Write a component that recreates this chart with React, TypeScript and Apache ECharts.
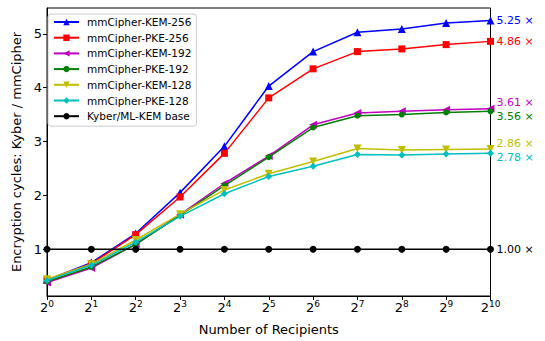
import React, { useEffect, useRef } from "react";
import * as echarts from "echarts";

const exponents = [0, 1, 2, 3, 4, 5, 6, 7, 8, 9, 10];
const yTicks = [1, 2, 3, 4, 5];

const seriesNames = [
  "mmCipher-KEM-256",
  "mmCipher-PKE-256",
  "mmCipher-KEM-192",
  "mmCipher-PKE-192",
  "mmCipher-KEM-128",
  "mmCipher-PKE-128",
  "Kyber/ML-KEM base",
];

const kem256 = [0.43, 0.75, 1.29, 2.05, 2.91, 4.03, 4.67, 5.03, 5.09, 5.2, 5.25];
const pke256 = [0.43, 0.73, 1.27, 1.97, 2.78, 3.81, 4.35, 4.67, 4.72, 4.8, 4.86];
const kem192 = [0.38, 0.65, 1.09, 1.64, 2.22, 2.73, 3.31, 3.53, 3.56, 3.59, 3.61];
const pke192 = [0.4, 0.67, 1.09, 1.63, 2.18, 2.71, 3.26, 3.48, 3.5, 3.54, 3.56];
const kem128 = [0.44, 0.72, 1.17, 1.65, 2.1, 2.4, 2.63, 2.87, 2.84, 2.85, 2.86];
const pke128 = [0.42, 0.7, 1.13, 1.61, 2.03, 2.35, 2.54, 2.76, 2.75, 2.77, 2.78];
const base = [1, 1, 1, 1, 1, 1, 1, 1, 1, 1, 1];

const allValues = [kem256, pke256, kem192, pke192, kem128, pke128, base];
const colors = ["#0000ff", "#ff0000", "#bf00bf", "#008000", "#bfbf00", "#00bfbf", "#000000"];
const symbols = ["triangle", "rect", "triangle", "circle", "triangle", "diamond", "circle"];
const symbolRotates = [0, 0, 90, 0, 180, 0, 0];
const symbolSizes = [8, 7, 8, 6, 8, 7, 7];
const endLabelOffsets = [0, 0, -6, 5, -6, 4, 0];

const FONT = "DejaVu Sans";

export default function App() {
  const ref = useRef<HTMLDivElement>(null);
  useEffect(() => {
    if (!ref.current) return;
    const chart = echarts.init(ref.current, null, { renderer: "svg" });
    const series = allValues.map((vals, i) => ({
      name: seriesNames[i],
      type: "line",
      data: vals.map((v, j) => [exponents[j], v]),
      symbol: symbols[i],
      symbolRotate: symbolRotates[i],
      symbolSize: symbolSizes[i],
      showAllSymbol: true,
      color: colors[i],
      lineStyle: { color: colors[i], width: 1.5 },
      itemStyle: { color: colors[i] },
      emphasis: { disabled: true },
      endLabel: {
        show: true,
        formatter: (p: any) => `${Number(p.value[1]).toFixed(2)} ×`,
        color: colors[i],
        fontFamily: FONT,
        fontSize: 11,
        distance: 6,
        offset: [0, endLabelOffsets[i]],
      },
      z: 2 + i,
    }));
    chart.setOption({
      animation: false,
      grid: { left: 47, right: 54.5, top: 8, bottom: 40, show: true, borderColor: "#000", borderWidth: 1 },
      legend: {
        orient: "vertical",
        left: 48,
        top: 14,
        itemWidth: 25,
        itemHeight: 8,
        itemGap: 3.7,
        padding: [2, 5, 4, 5],
        backgroundColor: "#fff",
        borderColor: "#cccccc",
        borderWidth: 1,
        borderRadius: 3,
        data: seriesNames,
        textStyle: { fontFamily: FONT, fontSize: 10.5, color: "#000", lineHeight: 12, padding: [0, 0, 0, 3] },
      },
      xAxis: {
        type: "value",
        min: 0,
        max: 10,
        interval: 1,
        name: "Number of Recipients",
        nameLocation: "middle",
        nameGap: 27,
        nameTextStyle: { fontFamily: FONT, fontSize: 13, color: "#000" },
        axisLine: { lineStyle: { color: "#000", width: 1 } },
        axisTick: { show: true, inside: false, length: 4, lineStyle: { color: "#000" } },
        splitLine: { show: false },
        axisLabel: {
          margin: 3,
          formatter: (v: number) => `{b|2}{s|${v}}`,
          rich: {
            b: { fontFamily: FONT, fontSize: 13, color: "#000", lineHeight: 16 },
            s: { fontFamily: FONT, fontSize: 9, color: "#000", lineHeight: 10, verticalAlign: "top" },
          },
        },
      },
      yAxis: {
        type: "value",
        min: 0.13,
        max: 5.48,
        name: "Encryption cycles: Kyber / mmCipher",
        nameLocation: "middle",
        nameGap: 20,
        nameTextStyle: { fontFamily: FONT, fontSize: 13, color: "#000" },
        axisLine: { show: true, lineStyle: { color: "#000", width: 1 } },
        axisTick: { show: true, inside: false, length: 4, customValues: yTicks, lineStyle: { color: "#000" } },
        splitLine: { show: false },
        axisLabel: {
          customValues: yTicks,
          margin: 5,
          fontFamily: FONT,
          fontSize: 13,
          color: "#000",
          formatter: (v: number) => `${Math.round(v)}`,
        },
      },
      series,
    });
    return () => chart.dispose();
  }, []);
  return <div ref={ref} style={{ width: 545, height: 341, position: "absolute", left: 0, top: 0 }} />;
}
